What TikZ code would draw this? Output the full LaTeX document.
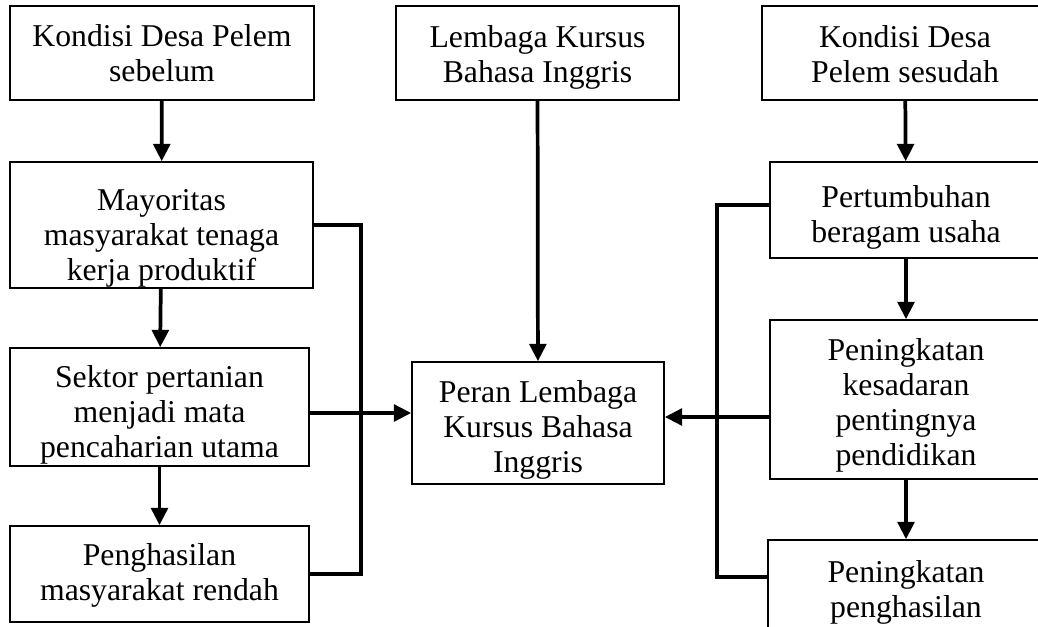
\documentclass[tikz,border=0pt]{standalone}
\usepackage{fontspec}
\setmainfont{Liberation Serif}
\usetikzlibrary{arrows.meta}

\begin{document}
\begin{tikzpicture}[x=0.75pt, y=-0.75pt,
	box/.style={draw, line width=1.2pt, inner sep=0pt, align=center, font=\fontsize{23.8pt}{26.25pt}\selectfont},
	link/.style={line width=2.8pt},
	arr/.style={link, -{Triangle[length=13pt, width=12.5pt]}}]
	\useasboundingbox (0,0) rectangle (1038,626);
	\clip (0,0) rectangle (1038,626);
	\node[box, minimum width=228pt, minimum height=70.5pt, text height=48pt, text depth=6pt] (a1) at (162,53) {Kondisi Desa Pelem\\sebelum};
	\node[box, minimum width=227.25pt, minimum height=94.5pt, text height=85.5pt, text depth=3pt] (a2) at (161.5,225) {Mayoritas\\masyarakat tenaga\\kerja produktif};
	\node[box, minimum width=224.25pt, minimum height=88.5pt, text height=81pt, text depth=6pt] (a3) at (159.5,407) {Sektor pertanian\\menjadi mata\\pencaharian utama};
	\node[box, minimum width=224.25pt, minimum height=72pt, text height=45pt, text depth=6pt] (a4) at (159.5,574) {Penghasilan\\masyarakat rendah};
	\node[box, minimum width=212.25pt, minimum height=70.5pt, text height=49.5pt, text depth=6pt] (b1) at (537.5,53) {Lembaga Kursus\\Bahasa Inggris};
	\node[box, minimum width=189pt, minimum height=91.5pt, text height=79.5pt, text depth=6pt] (b2) at (538,423) {Peran Lembaga\\Kursus Bahasa\\Inggris};
	\node[box, minimum width=214.5pt, minimum height=70.5pt, text height=49.5pt, text depth=6pt] (c1) at (905,53) {Kondisi Desa\\Pelem sesudah};
	\node[box, minimum width=204pt, minimum height=72pt, text height=54pt, text depth=6pt] (c2) at (906,210) {Pertumbuhan\\beragam usaha};
	\node[box, minimum width=204pt, minimum height=119.25pt, text height=104.25pt, text depth=6pt] (c3) at (906,399.5) {Peningkatan\\kesadaran\\pentingnya\\pendidikan};
	\node[box, minimum width=207pt, minimum height=75pt, text height=46.5pt, text depth=6pt] (c4) at (906,590) {Peningkatan\\penghasilan};
	\coordinate (jl) at (361,413);
	\coordinate (jr) at (717,417);
	\draw[arr] (a1) -- (a2);
	\draw[arr] (a2) -- (a3);
	\draw[arr] (a3) -- (a4);
	\draw[link] (a2.east) -| (jl);
	\draw[link] (a4.east) -| (jl);
	\draw[arr] (a3.east |- jl) -- (jl -| b2.west);
	\draw[arr] (b1) -- (b2);
	\draw[arr] (c1) -- (c2);
	\draw[arr] (c2) -- (c3);
	\draw[arr] (c3) -- (c4);
	\draw[link] ([yshift=3.75pt]c2.west) -| (jr);
	\draw[link] ([yshift=9.75pt]c4.west) -| (jr);
	\draw[arr] (c3.west |- jr) -- (jr -| b2.east);
\end{tikzpicture}
\end{document}
